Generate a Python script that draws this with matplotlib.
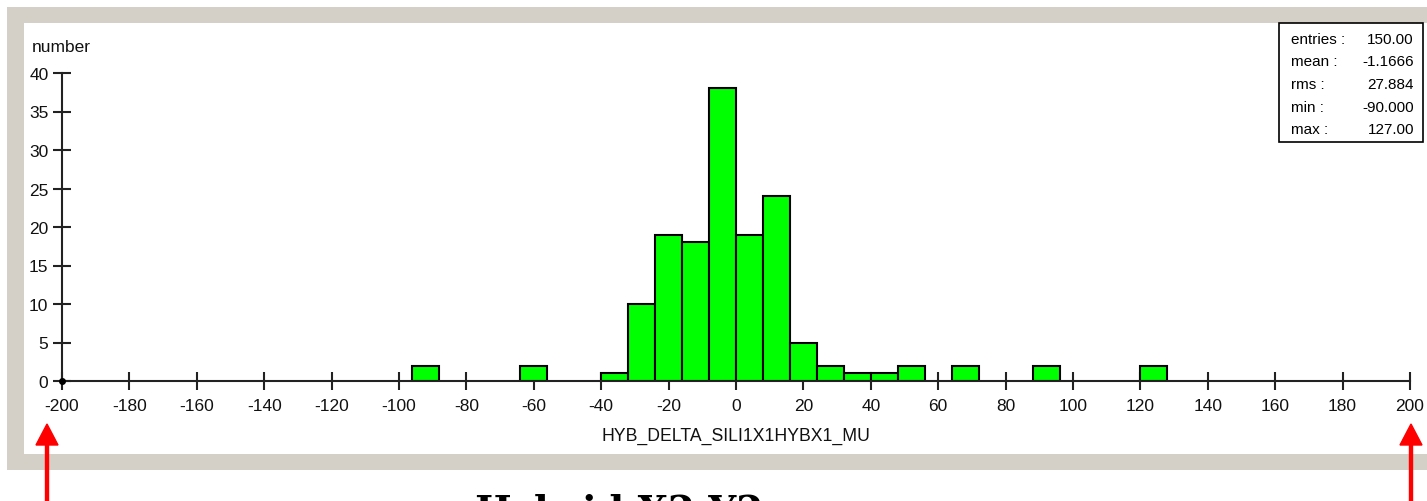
import numpy as np
import matplotlib
matplotlib.use("Agg")
import matplotlib.pyplot as plt
from matplotlib.patches import Rectangle, FancyArrow

# histogram data: bins of width 8 from -200 to 200 (only non-empty bins listed)
bin_lefts = [-96, -64, -40, -32, -24, -16, -8, 0, 8, 16, 24, 32, 40, 48, 64, 88, 120]
bin_counts = [2, 2, 1, 10, 19, 18, 38, 19, 24, 5, 2, 1, 1, 2, 2, 2, 2]

xticks = np.arange(-200, 201, 20)
yticks = np.arange(0, 41, 5)

stat_names = ["entries :", "mean :", "rms :", "min :", "max :"]
stat_values = ["150.00", "-1.1666", "27.884", "-90.000", "127.00"]

W, H = 1427, 502
gray = "#d4d0c8"
font = "Liberation Sans"
plt.rcParams["axes.unicode_minus"] = False

fig = plt.figure(figsize=(W / 100, H / 100), dpi=100)
fig.patch.set_facecolor("white")


def fx(px):
    return px / W


def fy(py):
    return 1 - py / H


# window frame
fig.patches.append(Rectangle((fx(7), fy(471)), fx(1427 - 7), (471 - 8) / H,
                             transform=fig.transFigure, facecolor=gray, edgecolor="none", zorder=-2))
fig.patches.append(Rectangle((fx(24), fy(455)), fx(1427 - 24), (455 - 24) / H,
                             transform=fig.transFigure, facecolor="white", edgecolor="none", zorder=-1))

ax = fig.add_axes([fx(62), fy(382), fx(1410 - 62), (382 - 74) / H])
ax.set_facecolor("none")
ax.set_zorder(1)

ax.bar(bin_lefts, bin_counts, width=8, align="edge", color="#00ff00",
       edgecolor="black", linewidth=1.5, zorder=2)

ax.set_xlim(-200, 200)
ax.set_ylim(0, 40)
ax.set_xticks(xticks)
ax.set_yticks(yticks)

for s in ["top", "right"]:
    ax.spines[s].set_visible(False)
for s in ["bottom", "left"]:
    ax.spines[s].set_color("#222222")
    ax.spines[s].set_linewidth(1.5)
    ax.spines[s].set_zorder(3)

ax.tick_params(axis="x", direction="inout", length=13, width=1.5, color="#222222",
               pad=6, labelsize=12.5)
ax.tick_params(axis="y", direction="inout", length=13.5, width=1.5, color="#222222",
               pad=3, labelsize=12.5)
for lab in ax.get_xticklabels() + ax.get_yticklabels():
    lab.set_fontfamily(font)
    lab.set_color("#111111")

ax.plot([-200], [0], "o", color="black", markersize=4, clip_on=False, zorder=4)

ax.set_xlabel("HYB_DELTA_SILI1X1HYBX1_MU", fontfamily=font, fontsize=12.7,
              labelpad=10, color="#111111")

fig.text(fx(32), fy(47), "number", fontfamily=font, fontsize=12.5,
         ha="left", va="center", color="#111111")

# stats box
fig.patches.append(Rectangle((fx(1279), fy(143)), fx(1423 - 1279), (143 - 24) / H,
                             transform=fig.transFigure, facecolor="white",
                             edgecolor="black", linewidth=1.2, zorder=5))
for i, (name, val) in enumerate(zip(stat_names, stat_values)):
    py = 40 + i * 22.5
    fig.text(fx(1291), fy(py), name, fontfamily=font, fontsize=11, ha="left",
             va="center", zorder=6)
    fig.text(fx(1414), fy(py), val, fontfamily=font, fontsize=11, ha="right",
             va="center", zorder=6)

# red arrows marking the axis ends
for px in [47, 1411]:
    fig.patches.append(FancyArrow(fx(px), fy(505), 0, (505 - 425) / H,
                                  width=fx(3), head_width=fx(22), head_length=21 / H,
                                  length_includes_head=True, transform=fig.transFigure,
                                  color="red", zorder=7))

# caption below, cut off by the image border as in the source screenshot
fig.text(fx(475), fy(493), "Hybrid X2 Y2", fontfamily="DejaVu Serif", fontweight="bold",
         fontsize=28, ha="left", va="top", color="black")

fig.savefig("out.png", dpi=100)
